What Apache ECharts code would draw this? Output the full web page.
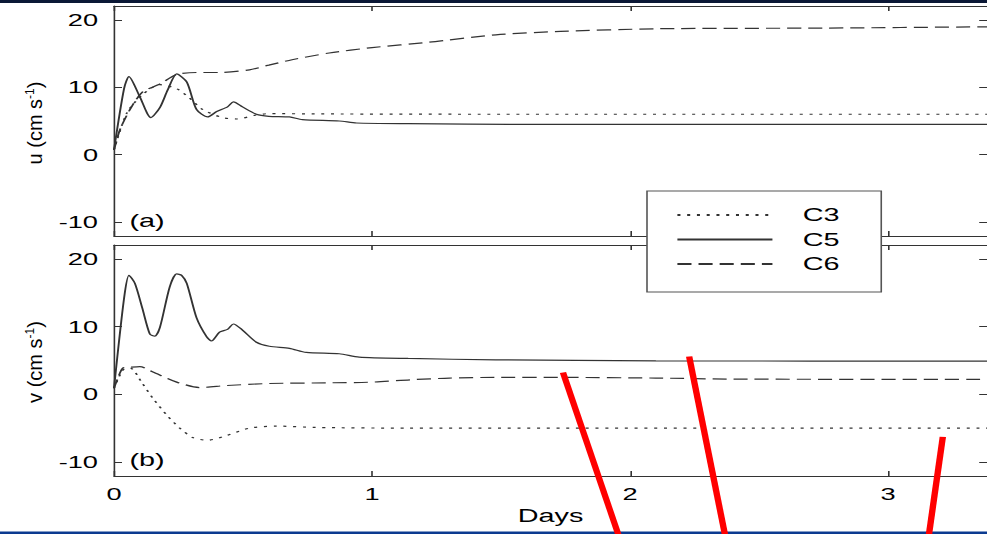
<!DOCTYPE html>
<html>
<head>
<meta charset="utf-8">
<script src="https://cdn.jsdelivr.net/npm/echarts@6/dist/echarts.min.js"></script>
<style>
html,body{margin:0;padding:0;overflow:hidden;background:#fff;}
#c{height:534px;transform-origin:0 0;}
</style>
</head>
<body>
<div id="c"></div>
<script>
// ---- data (days, cm/s) ----
const xTicks = [0, 1, 2, 3];
const yTicks = [-10, 0, 10, 20];
const legendNames = ['C3', 'C5', 'C6'];
const panelLabels = ['(a)', '(b)'];

const uC3 = [[0,0.7],[0.05,6.2],[0.11,8.9],[0.178,10.4],[0.243,9.8],[0.293,8.4],[0.344,6.7],[0.42,5.5],[0.475,5.3],[0.552,5.9],[0.6,6.1],[0.8,6.05],[1.5,6.0],[3.4,6.0]];
const uC5 = [[0,0.7],[0.039,9.8],[0.058,11.6],[0.1,8.6],[0.143,5.5],[0.178,7.0],[0.208,9.6],[0.243,12.0],[0.282,10.8],[0.32,6.7],[0.363,5.6],[0.398,6.4],[0.44,7.1],[0.463,7.85],[0.498,7.1],[0.552,6.0],[0.6,5.7],[0.68,5.6],[0.73,5.2],[0.873,5.0],[0.94,4.7],[1.14,4.6],[1.6,4.5],[2.5,4.5],[3.4,4.5]];
const uC6 = [[0,0.7],[0.023,3.7],[0.062,6.7],[0.11,9.3],[0.178,10.5],[0.243,11.9],[0.32,12.2],[0.41,12.2],[0.525,12.6],[0.6,13.3],[0.69,14.1],[0.834,15.1],[1.0,15.9],[1.22,16.7],[1.48,17.8],[1.73,18.3],[2.1,18.7],[2.75,18.8],[3.4,19.0]];

const vC3 = [[0,0.9],[0.035,3.6],[0.062,3.9],[0.11,1.6],[0.151,-0.6],[0.205,-3.1],[0.255,-5.0],[0.305,-6.4],[0.363,-6.8],[0.436,-6.1],[0.525,-5.0],[0.63,-4.7],[0.78,-4.9],[1.14,-5.0],[3.4,-5.0]];
const vC5 = [[0,0.9],[0.039,14.2],[0.058,17.6],[0.081,16.4],[0.11,12.7],[0.139,8.9],[0.158,8.6],[0.178,9.9],[0.216,15.9],[0.243,17.8],[0.262,17.6],[0.282,16.4],[0.32,11.3],[0.359,8.5],[0.378,7.9],[0.409,9.2],[0.44,9.6],[0.463,10.4],[0.498,9.5],[0.552,7.7],[0.602,7.1],[0.68,6.8],[0.745,6.2],[0.873,6.0],[0.95,5.5],[1.14,5.3],[1.48,5.1],[2.1,4.95],[3.4,4.9]];
const vC6 = [[0,0.9],[0.015,2.4],[0.035,3.9],[0.062,4.0],[0.1,4.1],[0.151,3.3],[0.243,1.8],[0.332,1.0],[0.436,1.3],[0.602,1.6],[0.834,1.7],[1.0,1.8],[1.15,2.15],[1.3,2.4],[1.48,2.5],[1.73,2.5],[2.1,2.4],[2.4,2.25],[3.4,2.2]];

// red hand-drawn strokes, in panel (b) data units
const redStrokes = [
  [[1.74,3.22],[1.955,-20.8]],
  [[2.229,5.6],[2.368,-20.8]],
  [[3.212,-6.3],[3.158,-20.8]]
];

// ---- layout ----
const SX = 1.6;               // horizontal stretch of the original figure
const W = 987 / SX;
const el = document.getElementById('c');
el.style.width = W + 'px';
el.style.transform = 'scaleX(' + SX + ')';

const FONT = 'Liberation Sans, Arial, sans-serif';
const AX = '#333';
const LINE = '#333';
const YMIN = -12.08, YMAX = 22.08, XMAX = 3.384;
const gLeft = 114 / SX, gWidth = 876.5 / SX;

const styles = {
  C3: { type: [1.9, 4.2], width: 1.2, color: LINE },
  C5: { type: 'solid', width: 1.2, color: LINE },
  C6: { type: [8.8, 4.4], width: 1.2, color: LINE }
};

function xAx(grid, pos, showLabel, name) {
  return {
    type: 'value', gridIndex: grid, position: pos, min: 0, max: XMAX,
    axisLine: { show: true, onZero: false, lineStyle: { color: AX, width: 1 } },
    axisTick: { show: true, inside: true, length: 5, customValues: xTicks, lineStyle: { color: AX } },
    axisLabel: { show: showLabel, customValues: xTicks, margin: 10, fontSize: 17, color: '#000', fontFamily: FONT },
    splitLine: { show: false },
    name: name || '', nameLocation: 'middle', nameGap: 31,
    nameTextStyle: { fontSize: 18, color: '#000', fontFamily: FONT }
  };
}
function yAx(grid, pos, showLabel) {
  return {
    type: 'value', gridIndex: grid, position: pos, min: YMIN, max: YMAX,
    axisLine: { show: true, onZero: false, lineStyle: { color: AX, width: 1 } },
    axisTick: { show: true, inside: true, length: 5, customValues: yTicks, lineStyle: { color: AX } },
    axisLabel: { show: showLabel, customValues: yTicks, margin: 10, fontSize: 17, color: '#000', fontFamily: FONT },
    splitLine: { show: false }
  };
}

function lineSeries(name, data, xi, yi) {
  return {
    type: 'line', name: name, data: data, xAxisIndex: xi, yAxisIndex: yi,
    showSymbol: false, symbol: 'none', smooth: 0.25, silent: true,
    itemStyle: { color: LINE },
    lineStyle: Object.assign({}, styles[name]), z: 2
  };
}

const series = [
  lineSeries('C3', uC3, 0, 0), lineSeries('C5', uC5, 0, 0), lineSeries('C6', uC6, 0, 0),
  lineSeries('C3', vC3, 2, 2), lineSeries('C5', vC5, 2, 2), lineSeries('C6', vC6, 2, 2)
];
redStrokes.forEach(function (s) {
  series.push({
    type: 'line', name: 'annotation', data: s, xAxisIndex: 2, yAxisIndex: 2,
    showSymbol: false, symbol: 'none', clip: false, silent: true, z: 5,
    lineStyle: { color: '#ff0000', width: 4, cap: 'butt' }
  });
});

const rich = {
  n: { fontSize: 20, fontFamily: FONT, fill: '#000', lineHeight: 22 },
  s: { fontSize: 12, fontFamily: FONT, fill: '#000', lineHeight: 22, verticalAlign: 'top' }
};
function yName(text, cy) {
  return {
    type: 'text', x: 35 / SX, y: cy, rotation: Math.PI / 2, scaleX: 1, scaleY: 1 / SX, z: 10,
    style: {
      text: '{n|' + text + ' (cm s}{s|-1}{n|)}', rich: rich,
      fontSize: 20, fontFamily: FONT, fill: '#000',
      align: 'center', verticalAlign: 'middle'
    }
  };
}

const option = {
  animation: false,
  backgroundColor: '#fff',
  grid: [
    { left: gLeft, top: 6, width: gWidth, height: 230 },
    { left: gLeft, top: 245, width: gWidth, height: 231 }
  ],
  xAxis: [xAx(0, 'bottom', false), xAx(0, 'top', false), xAx(1, 'bottom', true, 'Days'), xAx(1, 'top', false)],
  yAxis: [yAx(0, 'left', true), yAx(0, 'right', false), yAx(1, 'left', true), yAx(1, 'right', false)],
  legend: {
    data: legendNames, orient: 'vertical', left: 647 / SX, top: 191,
    padding: [15, 26, 19, 18], itemGap: 6.5, itemWidth: 59.4, itemHeight: 14,
    backgroundColor: '#fff', borderColor: '#555', borderWidth: 1, z: 8,
    itemStyle: { color: 'rgba(0,0,0,0)', borderColor: 'rgba(0,0,0,0)', borderWidth: 0, opacity: 0 },
    textStyle: { fontSize: 18, color: '#000', fontFamily: FONT, lineHeight: 18, padding: [0, 0, 0, 14] },
    selectedMode: false
  },
  graphic: [
    { type: 'rect', shape: { x: 0, y: 0, width: W, height: 3 }, style: { fill: '#0b1836' }, z: 0, silent: true },
    { type: 'rect', shape: { x: 0, y: 531.5, width: W, height: 3 }, style: { fill: '#0b3a90' }, z: 0, silent: true },
    { type: 'text', x: 147 / SX, y: 221, z: 10, style: { text: panelLabels[0], fontSize: 18, fontFamily: FONT, fill: '#000', align: 'center', verticalAlign: 'middle' } },
    { type: 'text', x: 147 / SX, y: 460, z: 10, style: { text: panelLabels[1], fontSize: 18, fontFamily: FONT, fill: '#000', align: 'center', verticalAlign: 'middle' } },
    yName('u', 123),
    yName('v', 362)
  ],
  series: series
};

const chart = echarts.init(el, null, { renderer: 'svg' });
chart.setOption(option);
</script>
</body>
</html>
